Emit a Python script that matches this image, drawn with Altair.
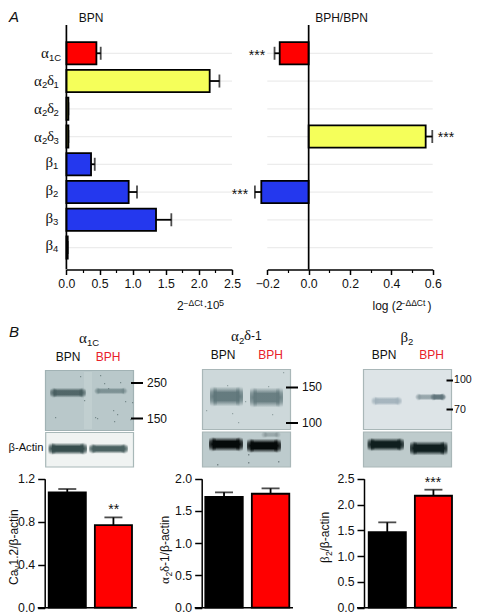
import altair as alt
import pandas as pd

# ---------- data ----------
genes = ["a1C", "a2d1", "a2d2", "a2d3", "b1", "b2", "b3", "b4"]
fills = ["#ff0000", "#f5ff5a", "#f5ff5a", "#f5ff5a", "#2438ee", "#2438ee", "#2438ee", "#2438ee"]
bpn_val = [0.453, 2.163, 0.03, 0.03, 0.372, 0.94, 1.353, 0.02]
bpn_err = [0.518, 2.31, 0.03, 0.03, 0.428, 1.066, 1.584, 0.02]
ratio_gene = ["a1C", "a2d3", "b2"]
ratio_fill = ["#ff0000", "#f5ff5a", "#2438ee"]
ratio_val = [-0.14, 0.566, -0.229]
ratio_err = [-0.165, 0.598, -0.26]

groups = ["BPN", "BPH"]
group_fill = ["#000000", "#ff0000"]
cav_val = [1.073, 0.769]
cav_err = [1.104, 0.84]
a2d_val = [1.716, 1.767]
a2d_err = [1.788, 1.85]
b2_val = [1.466, 2.17]
b2_err = [1.654, 2.287]

W, H = 464, 606
OFF = 8
SANS = "Liberation Sans"
GREEK = "Liberation Serif"
one = alt.Data(values=[{}])
LW = 1.5
BAR_LW = 1.8
layers = []


def px(v):
    return v - OFF


def txt(s, x, y, size=12, color="#111111", font=SANS, align="left", angle=0, style="normal"):
    layers.append(
        alt.Chart(one)
        .mark_text(text=s, fontSize=size, color=color, font=font, align=align,
                   baseline="middle", angle=angle, fontStyle=style)
        .encode(x=alt.value(px(x)), y=alt.value(px(y)))
    )


def rect(x0, x1, y0, y1, fill, stroke=None, opacity=1, radius=0):
    kw = {"fill": fill, "opacity": opacity, "cornerRadius": radius}
    if stroke:
        kw.update(stroke=stroke, strokeWidth=1.2)
    layers.append(
        alt.Chart(one).mark_rect(**kw)
        .encode(x=alt.value(px(x0)), x2=alt.value(px(x1)), y=alt.value(px(y0)), y2=alt.value(px(y1)))
    )


def hline(x0, x1, y, width=2, color="#000000"):
    layers.append(
        alt.Chart(one).mark_rule(color=color, strokeWidth=width)
        .encode(x=alt.value(px(x0)), x2=alt.value(px(x1)), y=alt.value(px(y)))
    )


def blur_band(x0, x1, y0, y1, rgb, strength=1.0):
    r, g, b = rgb
    pad = max((y1 - y0) * 0.6, 1.5)
    col = lambda a: f"rgba({r},{g},{b},{a})"
    stops = [
        alt.GradientStop(offset=0, color=col(0)),
        alt.GradientStop(offset=0.3, color=col(strength)),
        alt.GradientStop(offset=0.7, color=col(strength)),
        alt.GradientStop(offset=1, color=col(0)),
    ]
    grad = alt.Gradient(gradient="linear", x1=0, y1=0, x2=0, y2=1, stops=stops)
    rect(x0 + 2.5, x1 - 2.5, y0 - pad, y1 + pad, grad)
    blob = alt.Gradient(
        gradient="radial", x1=0.5, y1=0.5, x2=0.5, y2=0.5, r1=0, r2=0.5,
        stops=[
            alt.GradientStop(offset=0, color=col(strength)),
            alt.GradientStop(offset=0.5, color=col(strength * 0.7)),
            alt.GradientStop(offset=1, color=col(0)),
        ],
    )
    rect(x0 - 1, x0 + 6, y0 - pad, y1 + pad, blob)
    rect(x1 - 6, x1 + 1, y0 - pad, y1 + pad, blob)


def specks(points, color="#5d7072", d=1.2, opacity=0.7):
    for x, y in points:
        rect(x, x + d, y, y + d, color, opacity=opacity)


# ---------- panel A ----------
def panel_a(domain, xr, cats, vals, errs, cols, major, minor, labels_fmt):
    x_scale = alt.Scale(domain=domain, range=[px(xr[0]), px(xr[1])], nice=False, zero=False)
    y_scale = alt.Scale(domain=genes, range=[px(39.4), px(261.4)], paddingInner=0.2, paddingOuter=0.1)
    grid = pd.DataFrame({"g": genes})
    layers.append(
        alt.Chart(grid).mark_rule(color="#ececec", strokeWidth=1.2).encode(
            y=alt.Y("g:N", scale=y_scale, axis=None),
            x=alt.value(px(xr[0])), x2=alt.value(px(xr[1])),
        )
    )
    df = pd.DataFrame({"g": cats, "v": vals, "e": errs, "f": cols, "z": [0] * len(cats)})
    x = alt.X("v:Q", scale=x_scale, axis=None)
    y = alt.Y("g:N", scale=y_scale, axis=None)
    layers.append(alt.Chart(df).mark_rule(color="#000000", strokeWidth=LW + 0.3).encode(
        x=x, x2="e:Q", y=y))
    layers.append(alt.Chart(df).mark_tick(color="#000000", thickness=LW + 0.3, size=13).encode(
        x=alt.X("e:Q", scale=x_scale, axis=None), y=y))
    layers.append(alt.Chart(df).mark_bar(stroke="#000000", strokeWidth=BAR_LW).encode(
        x=x, x2="z:Q", y=y, fill=alt.Fill("f:N", scale=None)))
    layers.append(alt.Chart(pd.DataFrame({"t": minor})).mark_point(opacity=0).encode(
        x=alt.X("t:Q", scale=x_scale, axis=alt.Axis(
            values=minor, orient="bottom", offset=px(269.5) - H, labels=False, title=None, domain=False,
            grid=False, ticks=True, tickSize=3, tickWidth=1.2, tickColor="#000000")),
    ))
    layers.append(alt.Chart(pd.DataFrame({"t": major})).mark_point(opacity=0).encode(
        x=alt.X("t:Q", scale=x_scale, axis=alt.Axis(
            values=major, orient="bottom", offset=px(269.5) - H, title=None, grid=False, format=labels_fmt,
            domain=True, domainColor="#000000", domainWidth=LW, ticks=True, tickSize=5, tickWidth=LW,
            tickColor="#000000", labelFont=SANS, labelFontSize=12.3, labelColor="#111111", labelPadding=3,
            labelOverlap=False, labelFlush=False)),
    ))
    layers.append(alt.Chart(one).mark_rule(color="#000000", strokeWidth=LW + 0.2).encode(
        x=alt.X(datum=0, scale=x_scale, axis=None), y=alt.value(px(25)), y2=alt.value(px(269.5))))


panel_a([0, 2.5], (66.4, 232), genes, bpn_val, bpn_err, fills,
        [0, 0.5, 1, 1.5, 2, 2.5], [0.25, 0.75, 1.25, 1.75, 2.25], ".1f")
panel_a([-0.2, 0.6], (267.3, 432.7), ratio_gene, ratio_val, ratio_err, ratio_fill,
        [-0.2, 0, 0.2, 0.4, 0.6], [-0.1, 0.1, 0.3, 0.5], ".1f")

txt("A", 9, 17, 15, style="italic", font=SANS)
txt("BPN", 91, 18, 12, align="center")
txt("BPH/BPN", 341.5, 18, 12, align="center")

# gene labels
txt("α", 41, 52.5, 15, font=GREEK)
txt("1C", 49, 57.5, 9.5)
for yc, n in [(81, "1"), (109, "2"), (136.5, "3")]:
    txt("α", 34, yc, 15, font=GREEK)
    txt("2", 42, yc + 4, 9.5)
    txt("δ", 47, yc - 1, 15, font=GREEK)
    txt(n, 53.5, yc + 4, 9.5)
for yc, n in [(161.5, "1"), (189.5, "2"), (217.5, "3"), (245, "4")]:
    txt("β", 45.5, yc, 15, font=GREEK)
    txt(n, 53, yc + 4, 9.5)

# stars
txt("***", 257, 56, 14, align="center")
txt("***", 446, 138, 14, align="center")
txt("***", 240, 195, 14, align="center")

# x titles
txt("2", 177, 306, 12)
txt("−ΔCt", 183.5, 303, 8.5)
txt("·", 203.5, 306, 12)
txt("10", 206.5, 306, 11.5)
txt("5", 219, 302.5, 9)
txt("log (2", 372.5, 306, 12)
txt("−ΔΔCt", 400.5, 303, 8.5)
txt(")", 427.5, 306, 12)


# ---------- panel B bars ----------
def panel_b(domain, yticks, axis_x, bars, vals, errs, xend):
    y_scale = alt.Scale(domain=domain, range=[px(607.7), px(478.7)], nice=False, zero=True)
    x_scale = alt.Scale(domain=groups, range=[px(bars[0]), px(bars[1])], paddingInner=0.195, paddingOuter=0)
    df = pd.DataFrame({"g": groups, "v": vals, "e": errs, "f": group_fill, "z": [0, 0]})
    x = alt.X("g:N", scale=x_scale, axis=None)
    yy = alt.Y("v:Q", scale=y_scale, axis=None)
    layers.append(alt.Chart(df).mark_rule(color="#000000", strokeWidth=LW + 0.3).encode(x=x, y=yy, y2="e:Q"))
    layers.append(alt.Chart(df).mark_tick(color="#000000", thickness=LW + 0.3, size=18).encode(
        x=x, y=alt.Y("e:Q", scale=y_scale, axis=None)))
    layers.append(alt.Chart(df).mark_bar(stroke="#000000", strokeWidth=BAR_LW).encode(
        x=x, y=yy, y2="z:Q", fill=alt.Fill("f:N", scale=None)))
    layers.append(alt.Chart(pd.DataFrame({"t": yticks})).mark_point(opacity=0).encode(
        y=alt.Y("t:Q", scale=y_scale, axis=alt.Axis(
            values=yticks, orient="left", offset=-px(axis_x), title=None, grid=False, format=".1f",
            domain=True, domainColor="#000000", domainWidth=LW, ticks=True, tickSize=7, tickWidth=LW,
            tickColor="#000000", labelFont=SANS, labelFontSize=12.3, labelColor="#111111", labelPadding=3,
            labelOverlap=False, labelFlush=False, labelBaseline="middle")),
    ))
    layers.append(alt.Chart(one).mark_rule(color="#000000", strokeWidth=LW).encode(
        y=alt.Y(datum=0, scale=y_scale, axis=None), x=alt.value(px(axis_x - 7)), x2=alt.value(px(xend))))


panel_b([0, 1.2], [0, 0.4, 0.8, 1.2], 44.7, (48.7, 132), cav_val, cav_err, 136.7)
panel_b([0, 2.0], [0, 0.5, 1.0, 1.5, 2.0], 201.7, (205.3, 289.3), a2d_val, a2d_err, 293)
panel_b([0, 2.5], [0, 0.5, 1.0, 1.5, 2.0, 2.5], 364, (368.7, 452), b2_val, b2_err, 456.7)

txt("**", 113.7, 510, 14, align="center")
txt("***", 433, 483, 14, align="center")

# rotated y titles
txt("Ca", 14, 585, 12, angle=270)
txt("v", 17, 570, 8.5, angle=270)
txt("1.2/β-actin", 14, 565.5, 12, angle=270)
txt("α", 165, 584, 13, angle=270, font=GREEK)
txt("2", 168.5, 576.5, 8.5, angle=270)
txt("δ", 165, 572, 13, angle=270, font=GREEK)
txt("-1/β-actin", 165, 566, 12, angle=270)
txt("β", 325, 563, 13, angle=270, font=GREEK)
txt("2", 328.5, 556, 8.5, angle=270)
txt("/β-actin", 325, 551.5, 12, angle=270)

# ---------- blots ----------
txt("B", 9, 332, 15, style="italic")
txt("α", 79, 338, 15, font=GREEK)
txt("1C", 87, 342.5, 9.5)
txt("BPN", 68, 357, 12, align="center")
txt("BPH", 108, 357, 12, align="center", color="#e8212a")
rect(45.5, 133.5, 370.5, 430.5, "#b9c8ca", stroke="#a1b2b4")
rect(84, 92, 372, 429, "#d2dcdd", opacity=0.35)
blur_band(51, 85, 390.5, 395, (70, 92, 94), 0.9)
blur_band(95, 126.5, 389.5, 392.5, (110, 132, 135), 0.8)
specks([(100, 375), (104, 383), (80, 376), (125, 401), (132, 402), (113, 410), (117, 414),
        (95, 417), (97, 418), (130, 419), (114, 421), (84, 400), (108, 388), (120, 382), (55, 417)])
rect(45.7, 133.5, 432.5, 467, "#f0f3f2", stroke="#a8b8b8")
blur_band(49.5, 86, 446, 451.5, (55, 78, 78), 1)
blur_band(90, 127, 446.5, 451, (75, 98, 98), 1)
txt("β-Actin", 8.5, 448, 11.2, font=SANS)
hline(131, 143, 383, 2)
hline(131, 143, 418.5, 2)
txt("250", 147, 383, 12)
txt("150", 147, 419, 12)

txt("α", 231, 336, 15, font=GREEK)
txt("2", 239, 340.5, 9.5)
txt("δ", 244, 335, 15, font=GREEK)
txt("-1", 251, 336, 12)
txt("BPN", 223, 355, 12, align="center")
txt("BPH", 270.5, 355, 12, align="center", color="#e8212a")
rect(202.5, 290.5, 369.5, 429.5, "#cdd8da", stroke="#a9b7b8")
blur_band(211, 242, 392, 401, (95, 118, 122), 0.95)
blur_band(251, 282, 393, 402, (100, 122, 126), 0.95)
specks([(206, 410), (227, 385), (238, 422), (268, 386), (245, 401), (232, 413), (283, 372), (272, 414)], opacity=0.5)
rect(202.5, 290.5, 432, 467, "#bdcbcd", stroke="#a9b7b8")
blur_band(210, 242, 441, 447.5, (5, 10, 10), 1)
blur_band(248, 280, 442.5, 449, (5, 10, 10), 1)
blur_band(262, 280, 433.5, 436, (120, 135, 138), 0.5)
specks([(217, 464), (248, 462), (278, 461), (248, 454)], color="#4c5c5e", d=1.4, opacity=0.6)
hline(286, 298, 387.5, 2)
hline(286, 298, 423, 2)
txt("150", 302, 387, 12)
txt("100", 302, 423, 12)

txt("β", 400.5, 337, 15, font=GREEK)
txt("2", 408, 341.5, 9.5)
txt("BPN", 384, 355, 12, align="center")
txt("BPH", 431.5, 355, 12, align="center", color="#e8212a")
rect(363.5, 451.5, 369.5, 429.5, "#dde4e7", stroke="#a9b7b8")
blur_band(372.5, 401, 399, 403, (160, 176, 186), 0.9)
blur_band(416, 445.5, 395.5, 398.5, (135, 152, 158), 0.8)
blur_band(431, 445, 395.5, 398.5, (95, 115, 122), 0.9)
rect(363.5, 451.5, 432, 467, "#becbcc", stroke="#a9b7b8")
blur_band(368.5, 403, 441.5, 447.5, (15, 30, 30), 1)
blur_band(411, 446.5, 445, 451.5, (15, 30, 30), 1)
hline(446.5, 453, 380.5, 2)
hline(446.5, 453, 409.5, 2)
txt("100", 454, 380, 10.6)
txt("70", 454, 409.5, 10.6)

chart = (
    alt.layer(*layers)
    .resolve_scale(x="independent", y="independent")
    .properties(width=W, height=H, padding=0, autosize=alt.AutoSizeParams(type="none"))
    .configure_view(stroke=None)
)
chart.save("out.html", embed_options={"renderer": "svg", "actions": False})
